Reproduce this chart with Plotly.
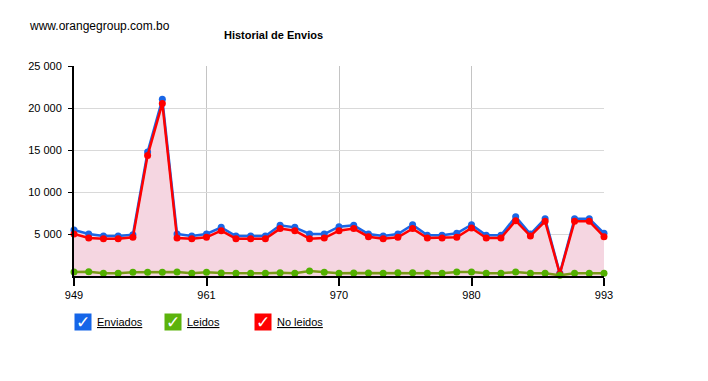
import plotly.graph_objects as go

ids = ["949","950","951","953","954","955","957","958","960","961",
       "962","963","964","965","966","967","968","969","970","971",
       "972","973","974","975","976","977","979","980","981","983",
       "985","986","988","989","990","992","993"]
tick_labels = ["949","961","970","980","993"]

enviados = [5480,5000,4760,4760,4920,14760,21030,5000,4760,5000,
            5790,4760,4760,4760,6030,5790,5000,5000,5870,6030,
            5000,4760,5000,6110,4840,4840,5080,6110,4840,4840,
            7060,5000,6830,330,6830,6830,5080]
no_leidos = [5000,4520,4440,4440,4600,14360,20550,4520,4440,4600,
             5400,4440,4440,4440,5640,5400,4440,4520,5400,5640,
             4680,4440,4600,5640,4520,4520,4600,5710,4520,4520,
             6590,4760,6510,250,6510,6510,4680]
leidos = [480,500,320,320,440,440,440,480,320,440,
          360,320,320,320,400,320,600,440,320,360,
          360,320,400,400,320,320,480,480,320,320,
          480,320,320,80,320,320,320]

FONT = "Arial, Liberation Sans, sans-serif"
OFF = 8  # page body margin
L, R, T, B = 74, 604, 66, 276
W, H = 708 - OFF, 381 - OFF

def px(x):
    return (x - L) / (R - L)

def py(y):
    return (B - y) / (B - T)

fig = go.Figure()
fig.add_trace(go.Scatter(x=ids, y=enviados, mode="none", fill="tozeroy",
                         fillcolor="#f5d6e1", hoverinfo="skip"))
fig.add_trace(go.Scatter(x=ids, y=enviados, mode="lines+markers", name="Enviados",
                         line=dict(color="#1a66e6", width=2.5),
                         marker=dict(color="#1a66e6", size=7), cliponaxis=False))
fig.add_trace(go.Scatter(x=ids, y=no_leidos, mode="lines+markers", name="No leidos",
                         line=dict(color="#ff0000", width=2.5),
                         marker=dict(color="#ff0000", size=7), cliponaxis=False))
fig.add_trace(go.Scatter(x=ids, y=leidos, mode="lines+markers", name="Leidos",
                         line=dict(color="#7a9a18", width=2.5),
                         marker=dict(color="#52b000", size=7), cliponaxis=False))

fig.update_layout(
    width=W, height=H,
    margin=dict(l=L - OFF, r=708 - R, t=T - OFF, b=381 - B, pad=0),
    paper_bgcolor="white", plot_bgcolor="white",
    showlegend=False,
    separators=". ",
    font=dict(family=FONT, size=11, color="black"),
)
fig.update_xaxes(type="category", range=[0, len(ids) - 1],
                 tickmode="array", tickvals=tick_labels, ticktext=tick_labels,
                 showgrid=True, gridcolor="#c4c4c4", gridwidth=1,
                 showline=True, linecolor="black", linewidth=2,
                 ticks="outside", ticklen=8, tickwidth=2, tickcolor="black",
                 tickfont=dict(family=FONT, size=11, color="black"),
                 zeroline=False, fixedrange=True)
fig.update_yaxes(range=[0, 25000],
                 tickmode="array", tickvals=[5000, 10000, 15000, 20000, 25000],
                 tickformat=",d",
                 showgrid=True, gridcolor="#d9d9d9", gridwidth=1,
                 showline=True, linecolor="black", linewidth=2,
                 ticks="outside", ticklen=4, tickwidth=1, tickcolor="black",
                 ticklabelstandoff=4,
                 tickfont=dict(family=FONT, size=11, color="black"),
                 zeroline=False, fixedrange=True)

annotations = [
    dict(text="www.orangegroup.com.bo", x=px(27), y=py(25.5), xanchor="left",
         yanchor="middle", font=dict(family=FONT, size=12, color="black")),
    dict(text="<b>Historial de Envios</b>", x=px(273), y=py(34.5), xanchor="center",
         yanchor="middle", font=dict(family=FONT, size=11, color="black")),
]
legend_items = [("Enviados", "#1565e8", 74, 95), ("Leidos", "#5cb30c", 164, 185),
                ("No leidos", "#ff0000", 254, 275)]
for name, col, bx, tx in legend_items:
    annotations.append(dict(text="✓", x=px(bx), y=py(322), xanchor="left", yanchor="middle",
                            bgcolor=col, width=16, height=16, borderpad=0,
                            font=dict(family="DejaVu Sans", size=17, color="white")))
    annotations.append(dict(text=f"<u>{name}</u>", x=px(tx), y=py(322), xanchor="left",
                            yanchor="middle", font=dict(family=FONT, size=11, color="black")))
for a in annotations:
    a.update(xref="paper", yref="paper", showarrow=False)
fig.update_layout(annotations=annotations)

fig.write_html("out.html")
